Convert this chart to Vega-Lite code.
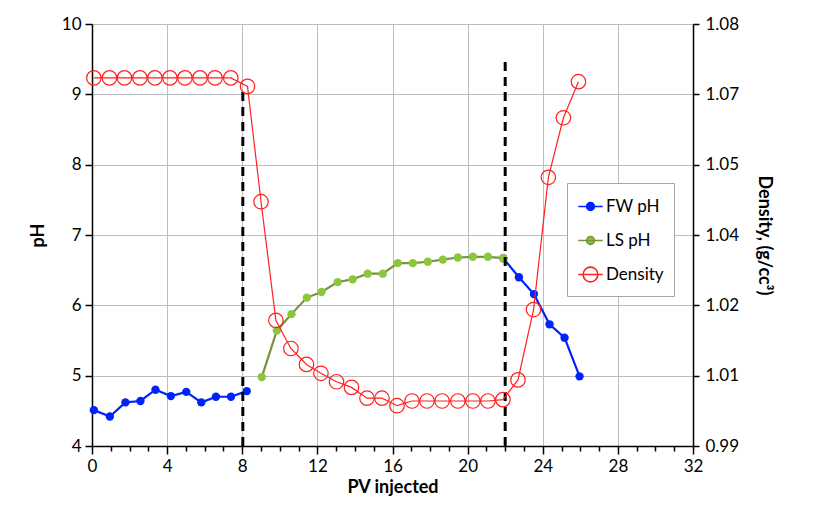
{
  "$schema": "https://vega.github.io/schema/vega-lite/v6.json",
  "width": 601,
  "height": 422,
  "autosize": "none",
  "padding": {"left": 92, "top": 24, "right": 121, "bottom": 69},
  "background": "white",
  "config": {
    "font": "Lato",
    "view": {"stroke": null},
    "axis": {
      "domainColor": "black",
      "domainWidth": 1.5,
      "tickColor": "black",
      "tickWidth": 1.5,
      "labelFontSize": 17,
      "labelColor": "black",
      "labelFont": "Lato",
      "titleFont": "Lato",
      "titleFontSize": 18,
      "titleFontWeight": "bold",
      "titleColor": "black",
      "gridColor": "#bdbdbd",
      "gridWidth": 1
    }
  },
  "datasets": {
    "series": [
      {"series": "FW pH", "run": "a", "pv": 0.1, "value": 4.51},
      {"series": "FW pH", "run": "a", "pv": 0.95, "value": 4.42},
      {"series": "FW pH", "run": "a", "pv": 1.78, "value": 4.62},
      {"series": "FW pH", "run": "a", "pv": 2.58, "value": 4.64},
      {"series": "FW pH", "run": "a", "pv": 3.38, "value": 4.8},
      {"series": "FW pH", "run": "a", "pv": 4.2, "value": 4.71},
      {"series": "FW pH", "run": "a", "pv": 5.02, "value": 4.77},
      {"series": "FW pH", "run": "a", "pv": 5.82, "value": 4.62},
      {"series": "FW pH", "run": "a", "pv": 6.6, "value": 4.7},
      {"series": "FW pH", "run": "a", "pv": 7.4, "value": 4.7},
      {"series": "FW pH", "run": "a", "pv": 8.24, "value": 4.78},
      {"series": "FW pH", "run": "b", "pv": 21.9, "value": 6.67},
      {"series": "FW pH", "run": "b", "pv": 22.73, "value": 6.4},
      {"series": "FW pH", "run": "b", "pv": 23.53, "value": 6.16},
      {"series": "FW pH", "run": "b", "pv": 24.36, "value": 5.73},
      {"series": "FW pH", "run": "b", "pv": 25.16, "value": 5.54},
      {"series": "FW pH", "run": "b", "pv": 25.96, "value": 4.99},
      {"series": "LS pH", "run": "c", "pv": 9.04, "value": 4.98},
      {"series": "LS pH", "run": "c", "pv": 9.84, "value": 5.64},
      {"series": "LS pH", "run": "c", "pv": 10.62, "value": 5.875},
      {"series": "LS pH", "run": "c", "pv": 11.44, "value": 6.11},
      {"series": "LS pH", "run": "c", "pv": 12.22, "value": 6.19},
      {"series": "LS pH", "run": "c", "pv": 13.08, "value": 6.33},
      {"series": "LS pH", "run": "c", "pv": 13.88, "value": 6.37},
      {"series": "LS pH", "run": "c", "pv": 14.68, "value": 6.45},
      {"series": "LS pH", "run": "c", "pv": 15.48, "value": 6.45},
      {"series": "LS pH", "run": "c", "pv": 16.28, "value": 6.6},
      {"series": "LS pH", "run": "c", "pv": 17.08, "value": 6.6},
      {"series": "LS pH", "run": "c", "pv": 17.88, "value": 6.62},
      {"series": "LS pH", "run": "c", "pv": 18.68, "value": 6.65},
      {"series": "LS pH", "run": "c", "pv": 19.48, "value": 6.68},
      {"series": "LS pH", "run": "c", "pv": 20.28, "value": 6.69},
      {"series": "LS pH", "run": "c", "pv": 21.08, "value": 6.69},
      {"series": "LS pH", "run": "c", "pv": 21.9, "value": 6.67},
      {"series": "Density", "run": "d", "pv": 0.1, "value": 1.0685},
      {"series": "Density", "run": "d", "pv": 0.93, "value": 1.0685},
      {"series": "Density", "run": "d", "pv": 1.73, "value": 1.0685},
      {"series": "Density", "run": "d", "pv": 2.55, "value": 1.0685},
      {"series": "Density", "run": "d", "pv": 3.35, "value": 1.0685},
      {"series": "Density", "run": "d", "pv": 4.15, "value": 1.0685},
      {"series": "Density", "run": "d", "pv": 4.95, "value": 1.0685},
      {"series": "Density", "run": "d", "pv": 5.75, "value": 1.0685},
      {"series": "Density", "run": "d", "pv": 6.55, "value": 1.0685},
      {"series": "Density", "run": "d", "pv": 7.39, "value": 1.0685},
      {"series": "Density", "run": "d", "pv": 8.28, "value": 1.0667},
      {"series": "Density", "run": "d", "pv": 9.0, "value": 1.0421},
      {"series": "Density", "run": "d", "pv": 9.79, "value": 1.0168},
      {"series": "Density", "run": "d", "pv": 10.59, "value": 1.0108},
      {"series": "Density", "run": "d", "pv": 11.42, "value": 1.0074},
      {"series": "Density", "run": "d", "pv": 12.19, "value": 1.0055},
      {"series": "Density", "run": "d", "pv": 13.02, "value": 1.0037},
      {"series": "Density", "run": "d", "pv": 13.82, "value": 1.0025},
      {"series": "Density", "run": "d", "pv": 14.64, "value": 1.0002},
      {"series": "Density", "run": "d", "pv": 15.44, "value": 1.0002},
      {"series": "Density", "run": "d", "pv": 16.24, "value": 0.9986},
      {"series": "Density", "run": "d", "pv": 17.04, "value": 0.9996},
      {"series": "Density", "run": "d", "pv": 17.84, "value": 0.9996},
      {"series": "Density", "run": "d", "pv": 18.64, "value": 0.9996},
      {"series": "Density", "run": "d", "pv": 19.48, "value": 0.9996},
      {"series": "Density", "run": "d", "pv": 20.28, "value": 0.9996},
      {"series": "Density", "run": "d", "pv": 21.08, "value": 0.9996},
      {"series": "Density", "run": "d", "pv": 21.88, "value": 0.9999},
      {"series": "Density", "run": "d", "pv": 22.68, "value": 1.0041},
      {"series": "Density", "run": "d", "pv": 23.51, "value": 1.0191},
      {"series": "Density", "run": "d", "pv": 24.3, "value": 1.0473},
      {"series": "Density", "run": "d", "pv": 25.1, "value": 1.06},
      {"series": "Density", "run": "d", "pv": 25.9, "value": 1.0677}
    ],
    "markers": [
      {"pv": 8.03, "value": 4, "value2": 9.1},
      {"pv": 22.0, "value": 4, "value2": 9.5}
    ]
  },
  "encoding": {
    "x": {
      "field": "pv",
      "type": "quantitative",
      "scale": {"domain": [0, 32], "nice": false, "zero": false},
      "axis": {
        "title": "PV injected",
        "values": [0,1,2,3,4,5,6,7,8,9,10,11,12,13,14,15,16,17,18,19,20,21,22,23,24,25,26,27,28,29,30,31,32],
        "labelExpr": "datum.value % 4 === 0 ? datum.label : ''",
        "labelOverlap": false,
        "labelFlush": false,
        "tickSize": {"condition": {"test": "datum.value % 4 !== 0", "value": 5}, "value": 8},
        "gridOpacity": {"condition": {"test": "datum.value % 4 !== 0", "value": 0}, "value": 1},
        "grid": true,
        "labelPadding": 4,
        "titlePadding": 4
      }
    }
  },
  "layer": [
    {
      "encoding": {
        "y": {
          "field": "value",
          "type": "quantitative",
          "scale": {"domain": [4, 10], "nice": false, "zero": false},
          "axis": {
            "title": "pH",
            "values": [4, 5, 6, 7, 8, 9, 10],
            "grid": true,
            "tickSize": 7,
            "labelPadding": 4,
            "titlePadding": 14
          }
        }
      },
      "layer": [
        {
          "data": {"name": "series"},
          "transform": [{"filter": "datum.series === 'FW pH'"}],
          "mark": {"type": "line", "strokeWidth": 2.2, "color": "#0022ff"},
          "encoding": {
            "detail": {"field": "run"}
          }
        },
        {
          "data": {"name": "series"},
          "transform": [{"filter": "datum.series === 'FW pH'"}],
          "mark": {"type": "point", "filled": true, "size": 70, "opacity": 1, "shape": "circle", "color": "#0022ff"},
          "encoding": {}
        },
        {
          "data": {"name": "series"},
          "transform": [{"filter": "datum.series === 'LS pH'"}],
          "mark": {"type": "line", "strokeWidth": 2.2, "color": "#77933c"},
          "encoding": {}
        },
        {
          "data": {"name": "series"},
          "transform": [{"filter": "datum.series === 'LS pH'"}],
          "mark": {"type": "point", "filled": true, "size": 70, "opacity": 1, "shape": "circle", "color": "#8cc63f"},
          "encoding": {}
        },
        {
          "data": {"name": "markers"},
          "mark": {"type": "rule", "color": "black", "strokeWidth": 3, "strokeDash": [9, 6]},
          "encoding": {
            "y2": {"field": "value2"}
          }
        },
        {
          "data": {"name": "series"},
          "transform": [{"filter": "false"}],
          "mark": {"type": "point", "filled": true, "opacity": 1, "strokeWidth": 2},
          "encoding": {
            "fill": {
              "field": "series",
              "type": "nominal",
              "scale": {"domain": ["FW pH", "LS pH", "Density"], "range": ["#0022ff", "#8cc63f", "transparent"]},
              "legend": {"title": null, "orient": "none", "legendX": 475, "legendY": 159, "direction": "vertical", "fillColor": "white", "strokeColor": "#a6a6a6", "padding": 10, "labelFontSize": 17, "labelFont": "Lato", "labelColor": "black", "symbolSize": 600, "symbolStrokeWidth": 1.6, "rowPadding": 12, "labelOffset": 2}
            },
            "stroke": {
              "field": "series",
              "type": "nominal",
              "scale": {"domain": ["FW pH", "LS pH", "Density"], "range": ["#0022ff", "#77933c", "#ff2020"]},
              "legend": {"title": null, "orient": "none", "legendX": 475, "legendY": 159, "direction": "vertical", "fillColor": "white", "strokeColor": "#a6a6a6", "padding": 10, "labelFontSize": 17, "labelFont": "Lato", "labelColor": "black", "symbolSize": 600, "symbolStrokeWidth": 1.6, "rowPadding": 12, "labelOffset": 2}
            },
            "shape": {
              "field": "series",
              "type": "nominal",
              "scale": {"domain": ["FW pH", "LS pH", "Density"], "range": ["M-1,0H1M-0.32,0A0.32,0.32 0 1,0 0.32,0A0.32,0.32 0 1,0 -0.32,0Z", "M-1,0H1M-0.32,0A0.32,0.32 0 1,0 0.32,0A0.32,0.32 0 1,0 -0.32,0Z", "M-1,0H1M-0.6,0A0.6,0.6 0 1,0 0.6,0A0.6,0.6 0 1,0 -0.6,0Z"]},
              "legend": {"title": null, "orient": "none", "legendX": 475, "legendY": 159, "direction": "vertical", "fillColor": "white", "strokeColor": "#a6a6a6", "padding": 10, "labelFontSize": 17, "labelFont": "Lato", "labelColor": "black", "symbolSize": 600, "symbolStrokeWidth": 1.6, "rowPadding": 12, "labelOffset": 2}
            }
          }
        }
      ]
    },
    {
      "data": {"name": "series"},
      "transform": [{"filter": "datum.series === 'Density'"}],
      "encoding": {
        "y": {
          "field": "value",
          "type": "quantitative",
          "scale": {"domain": [0.99, 1.08], "nice": false, "zero": false},
          "axis": {
            "orient": "right",
            "title": "Density, (g/cc³)",
            "values": [0.99, 1.005, 1.02, 1.035, 1.05, 1.065, 1.08],
            "labelExpr": "format(datum.value + 0.0001, '.2f')",
            "grid": false,
            "tickSize": 6,
            "labelPadding": 6,
            "titlePadding": 16
          }
        }
      },
      "layer": [
        {
          "mark": {"type": "line", "strokeWidth": 1.2, "color": "#ff2020"},
          "encoding": {}
        },
        {
          "mark": {"type": "point", "filled": false, "size": 210, "strokeWidth": 1.2, "opacity": 1, "shape": "circle", "color": "#ff2020"},
          "encoding": {}
        }
      ]
    }
  ],
  "resolve": {"scale": {"y": "independent"}}
}
